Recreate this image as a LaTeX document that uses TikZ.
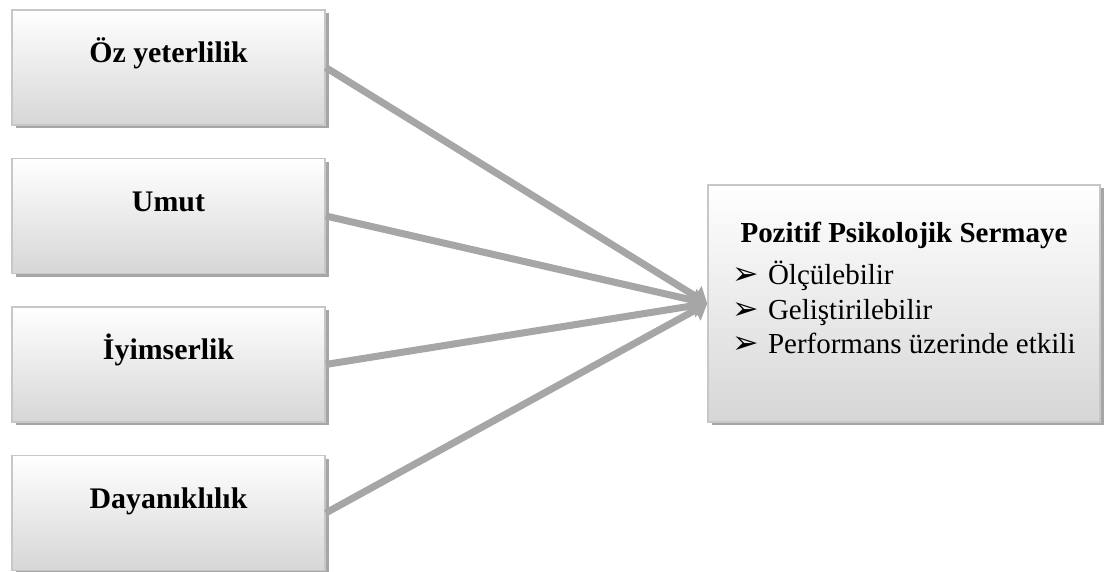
\documentclass[tikz,border=0pt]{standalone}
\usepackage{fontspec}
\setmainfont{Liberation Serif}
\newfontfamily\dingfont{DejaVu Sans}
\usetikzlibrary{arrows.meta,positioning,shadows}

\begin{document}
\begin{tikzpicture}[
        node distance=0.64cm,
        box/.style={rectangle, draw=black!22, line width=0.85pt, top color=white, bottom color=black!16,
            minimum width=6.26cm, minimum height=2.3cm, text height=0.4cm, text depth=0.58cm,
            font=\fontsize{17}{20}\selectfont\bfseries,
            drop shadow={shadow xshift=0.07cm, shadow yshift=-0.07cm, opacity=1, fill=black!35}},
        bigbox/.style={box, inner sep=0pt, minimum width=7.84cm, minimum height=4.74cm,
            text height=, text depth=, font=\fontsize{16.5}{19.8}\selectfont},
        arrow/.style={-{Triangle[length=8pt,width=13pt]}, line width=4pt, draw=black!35}
    ]
        \useasboundingbox (0,0) rectangle (22.08,11.44);

        % Nodes
        \node[box] (oz) at (3.37,10.09) {Öz yeterlilik};
        \node[box, below=of oz] (umut) {Umut};
        \node[box, below=of umut] (iyim) {İyimserlik};
        \node[box, below=of iyim] (daya) {Dayanıklılık};
        \node[bigbox] (psy) at (18.08,5.37) {%
            \begin{minipage}[t][4.74cm][t]{7.84cm}
                \centering\rule{0pt}{1.15cm}\textbf{Pozitif Psikolojik Sermaye}\par
                \vspace{4pt}
                \raggedright
                \hspace*{0.48cm}\makebox[0.72cm][l]{\dingfont\fontsize{18}{18}\selectfont ➢}Ölçülebilir\par
                \hspace*{0.48cm}\makebox[0.72cm][l]{\dingfont\fontsize{18}{18}\selectfont ➢}Geliştirilebilir\par
                \hspace*{0.48cm}\makebox[0.72cm][l]{\dingfont\fontsize{18}{18}\selectfont ➢}Performans üzerinde etkili\par
            \end{minipage}};

        % Arrows
        \draw[arrow] (oz.east) -- (psy.west);
        \draw[arrow] (umut.east) -- (psy.west);
        \draw[arrow] (iyim.east) -- (psy.west);
        \draw[arrow] (daya.east) -- (psy.west);

    \end{tikzpicture}
\end{document}
